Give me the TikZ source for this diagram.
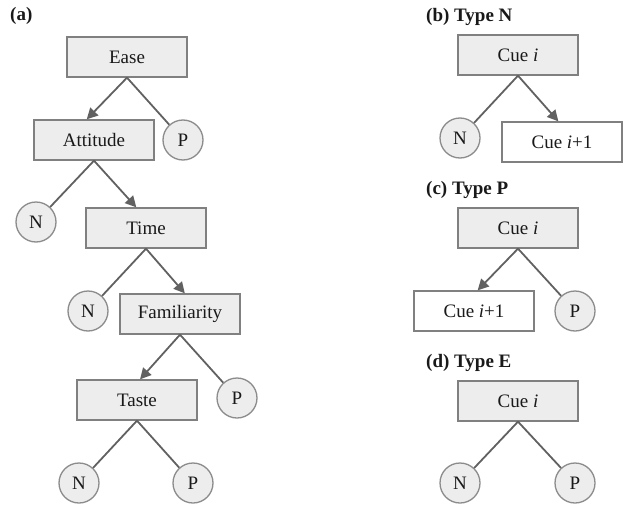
\documentclass[tikz,border=0pt]{standalone}
\usepackage{fontspec}
\setmainfont{Liberation Serif}
\usetikzlibrary{arrows.meta,calc}
\begin{document}
\begin{tikzpicture}[x=1pt,y=-1pt,
  every node/.style={font=\fontsize{19}{22}\selectfont, text=black!90},
  cue/.style={draw=black!50, fill=black!7, minimum width=120pt, minimum height=40pt, inner sep=0pt, line width=1.3pt},
  nextcue/.style={cue, fill=white},
  leaf/.style={circle, draw=black!45, fill=black!7, minimum size=40pt, inner sep=0pt, line width=1.3pt},
  lbl/.style={font=\fontsize{19}{22}\selectfont\bfseries, anchor=west, inner sep=0pt},
  edge/.style={draw=black!62, line width=1.8pt},
  arr/.style={edge, -{Triangle[length=11pt,width=11pt]}}
]
\useasboundingbox (0,0) rectangle (624,506);
% (a)
\node[lbl] (la) at (10,16) {(a)};
\node[cue] (ease) at (127,57) {Ease};
\node[cue] (att) at (94,140) {Attitude};
\node[leaf] (p1) at (183,140) {P};
\node[leaf] (n1) at (36,222) {N};
\node[cue] (time) at (146,228) {Time};
\node[leaf] (n2) at (88,311) {N};
\node[cue] (fam) at (180,314) {Familiarity};
\node[cue] (tas) at (137,400) {Taste};
\node[leaf] (p2) at (237,398) {P};
\node[leaf] (n3) at (79,483) {N};
\node[leaf] (p3) at (193,483) {P};
\draw[arr] (ease.south) -- ($(att.north west)!0.44!(att.north east)$);
\draw[edge] (ease.south) -- (p1);
\draw[edge] (att.south) -- (n1);
\draw[arr] (att.south) -- ($(time.north west)!0.42!(time.north east)$);
\draw[edge] (time.south) -- (n2);
\draw[arr] (time.south) -- ($(fam.north west)!0.54!(fam.north east)$);
\draw[arr] (fam.south) -- ($(tas.north west)!0.525!(tas.north east)$);
\draw[edge] (fam.south) -- (p2);
\draw[edge] (tas.south) -- (n3);
\draw[edge] (tas.south) -- (p3);
% (b)
\node[lbl] (lb) at (426,17) {(b) Type N};
\node[cue] (cb) at (518,55) {Cue \textit{i}};
\node[leaf] (nb) at (460,138) {N};
\node[nextcue] (xb) at (562,142) {Cue \textit{i}+1};
\draw[edge] (cb.south) -- (nb);
\draw[arr] (cb.south) -- ($(xb.north west)!0.47!(xb.north east)$);
% (c)
\node[lbl] (lc) at (426,190) {(c) Type P};
\node[cue] (cc) at (518,228) {Cue \textit{i}};
\node[nextcue] (xc) at (474,311) {Cue \textit{i}+1};
\node[leaf] (pc) at (575,311) {P};
\draw[arr] (cc.south) -- ($(xc.north west)!0.53!(xc.north east)$);
\draw[edge] (cc.south) -- (pc);
% (d)
\node[lbl] (ld) at (426,363) {(d) Type E};
\node[cue] (cd) at (518,401) {Cue \textit{i}};
\node[leaf] (nd) at (460,483) {N};
\node[leaf] (pd) at (575,483) {P};
\draw[edge] (cd.south) -- (nd);
\draw[edge] (cd.south) -- (pd);
\end{tikzpicture}
\end{document}
